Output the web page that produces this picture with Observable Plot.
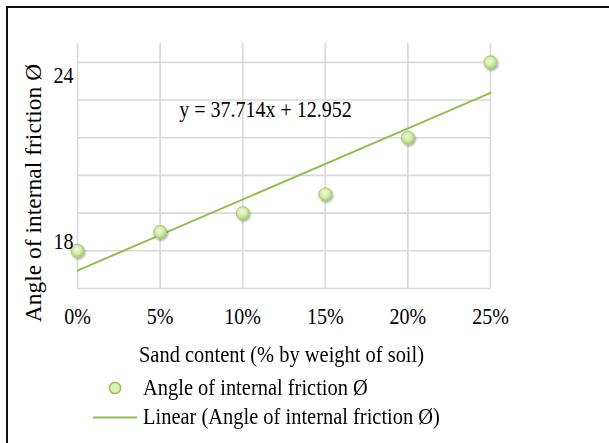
<!DOCTYPE html>
<html><head><meta charset="utf-8">
<script src="https://cdn.jsdelivr.net/npm/d3@7"></script>
<script src="https://cdn.jsdelivr.net/npm/@observablehq/plot@0.6"></script>
<style>
html,body{margin:0;padding:0;overflow:hidden;background:#fff;}
#wrap{position:relative;width:609px;height:443px;overflow:hidden;font-family:"Liberation Serif","Times New Roman",serif;color:#000;}
#frame{position:absolute;left:6px;top:6px;width:700px;height:500px;border:2px solid #111;box-sizing:border-box;}
#wrap svg{position:absolute;left:0;top:0;}
.t{position:absolute;font-size:23.5px;line-height:23.5px;white-space:nowrap;transform:scaleX(0.87);transform-origin:0 50%;}
</style></head><body>
<div id="wrap"><div id="frame"></div></div>
<script>
// ---- data ----
const sandContent = [0, 0.05, 0.10, 0.15, 0.20, 0.25];
const frictionAngle = [14, 15, 16, 17, 20, 24];
const xTicks = [0, 0.05, 0.10, 0.15, 0.20, 0.25];
const yGrid = [12, 14, 16, 18, 20, 22, 24];
const yTickLabels = [18, 24];
const seriesName = "Angle of internal friction Ø";
const trendName = "Linear (Angle of internal friction Ø)";
const xTitle = "Sand content (% by weight of soil)";
const yTitle = "Angle of internal friction Ø";

const data = sandContent.map((x, i) => ({x, y: frictionAngle[i]}));

// least-squares fit for the equation label
const mx = d3.mean(sandContent), my = d3.mean(frictionAngle);
const slope = d3.sum(sandContent, (x, i) => (x - mx) * (frictionAngle[i] - my)) / d3.sum(sandContent, x => (x - mx) ** 2);
const intercept = my - slope * mx;
const eq = `y = ${slope.toFixed(3)}x + ${intercept.toFixed(3)}`;

const W = 609, H = 330, ML = 77, MR = 119, MT = 43, MB = 42;
const FONT = '"Liberation Serif","Times New Roman",serif';
const GREEN = "#92bd4f";

const main = Plot.plot({
  width: W, height: H, marginLeft: ML, marginRight: MR, marginTop: MT, marginBottom: MB,
  style: {fontFamily: FONT, fontSize: "23px", color: "#000", background: "transparent", overflow: "visible"},
  x: {domain: [0, 0.25], axis: null, label: null},
  y: {domain: [12, 25], axis: null, label: null},
  marks: [
    Plot.gridX(xTicks, {stroke: "#d9d9d9", strokeOpacity: 1, strokeWidth: 1.6}),
    Plot.gridY(yGrid, {stroke: "#d9d9d9", strokeOpacity: 1, strokeWidth: 1.6}),
    Plot.axisX(xTicks, {tickSize: 0, tickPadding: 19, tickFormat: d3.format(".0%"), fill: "#000", fontSize: 23, label: null}),
    Plot.linearRegressionY(data, {x: "x", y: "y", ci: 0, stroke: GREEN, strokeWidth: 2}),
    Plot.dot(data, {x: "x", y: "y", r: 6.5, fill: "url(#ptGrad)", stroke: "#a6ca6c", strokeWidth: 1}),
    Plot.text([eq], {frameAnchor: "top-left", dx: 188, dy: 66, fontSize: 23, lineAnchor: "middle", textAnchor: "middle", fill: "#000"})
  ]
});

const over = Plot.plot({
  width: W, height: H, marginLeft: ML, marginRight: MR, marginTop: MT, marginBottom: MB,
  style: {fontFamily: FONT, fontSize: "23px", color: "#000", background: "transparent", overflow: "visible", pointerEvents: "none"},
  y: {domain: [16.32, 25.15], axis: null, label: null},
  marks: [
    Plot.axisY(yTickLabels, {tickSize: 0, tickPadding: 4, fontSize: 23, fill: "#000", label: null}),
    Plot.text([yTitle], {frameAnchor: "left", rotate: -90, dx: -44, dy: 27, fontSize: 23.5, lineAnchor: "middle", textAnchor: "middle", fill: "#000"})
  ]
});

const wrap = document.getElementById("wrap");
wrap.appendChild(main);
wrap.appendChild(over);

// gradient + shadow for points
const ns = "http://www.w3.org/2000/svg";
const defs = document.createElementNS(ns, "defs");
defs.innerHTML = `<radialGradient id="ptGrad" cx="0.45" cy="0.4" r="0.6">
  <stop offset="0" stop-color="#f1f9e3"/><stop offset="0.55" stop-color="#d3ebab"/><stop offset="1" stop-color="#a8cf66"/>
</radialGradient>
<filter id="ptShadow" x="-60%" y="-60%" width="220%" height="220%">
  <feDropShadow dx="1" dy="1.5" stdDeviation="1.3" flood-color="#000" flood-opacity="0.35"/>
</filter>`;
main.insertBefore(defs, main.firstChild);
main.querySelectorAll("circle").forEach(c => c.setAttribute("filter", "url(#ptShadow)"));

// horizontal squeeze of text (reference text is narrow)
function squeeze(svg, f) {
  svg.querySelectorAll("text").forEach(t => {
    if ((t.getAttribute("transform") || "").includes("rotate")) return;
    const len = t.getComputedTextLength();
    if (len > 0) { t.setAttribute("textLength", (len * f).toFixed(2)); t.setAttribute("lengthAdjust", "spacingAndGlyphs"); }
  });
}
squeeze(main, 0.87);
squeeze(over, 0.87);

// x title and legend (HTML, below the plot)
function addText(txt, left, centerY) {
  const d = document.createElement("div");
  d.className = "t";
  d.textContent = txt;
  d.style.left = left + "px";
  d.style.top = (centerY - 11.75) + "px";
  wrap.appendChild(d);
}
addText(xTitle, 139, 355);
addText(seriesName, 142.7, 388);
addText(trendName, 142.7, 417);

const sw = document.createElementNS(ns, "svg");
sw.setAttribute("width", 609); sw.setAttribute("height", 443);
sw.style.pointerEvents = "none";
sw.innerHTML = `<circle cx="115" cy="388" r="5.6" fill="#dcf0bd" stroke="${GREEN}" stroke-width="1.5"/>
<line x1="93" x2="137" y1="417.5" y2="417.5" stroke="${GREEN}" stroke-width="2"/>`;
wrap.appendChild(sw);
</script>
</body></html>
